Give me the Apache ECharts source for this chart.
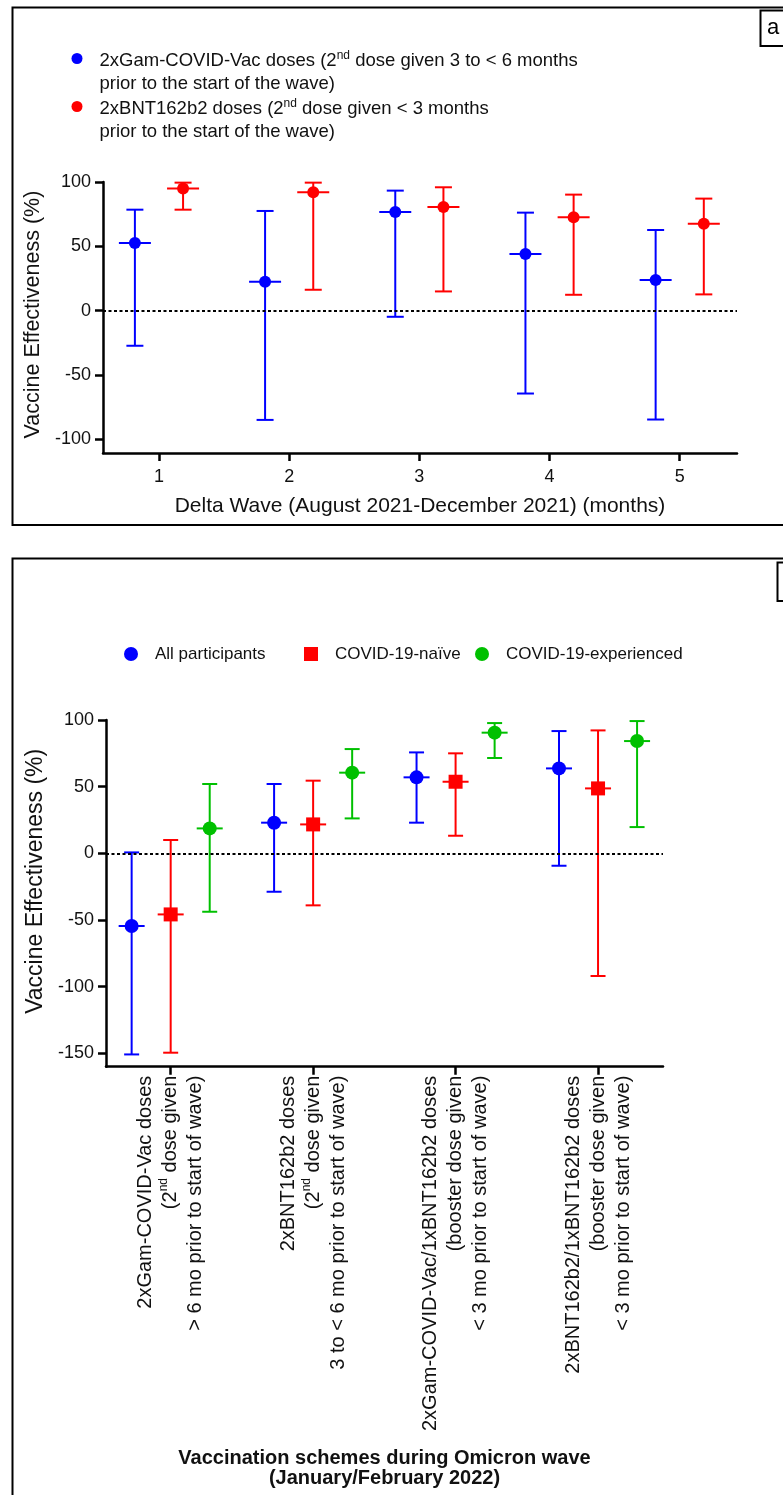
<!DOCTYPE html>
<html>
<head>
<meta charset="utf-8">
<script src="https://cdn.jsdelivr.net/npm/echarts@6/dist/echarts.min.js"></script>
<style>
html, body { margin: 0; padding: 0; background: #fff; }
#chart { width: 783px; height: 1495px; }
</style>
</head>
<body>
<div id="chart"></div>
<script>
// ---------- Panel a : Delta wave ----------
const deltaMonths = [1, 2, 3, 4, 5];
const deltaTickLabels = ['1', '2', '3', '4', '5'];
const deltaYTicks = [-100, -50, 0, 50, 100];
const gamDeltaMean = [52.6, 22.5, 76.7, 44.1, 23.9];
const gamDeltaLow  = [-27.2, -84.8, -4.7, -64.3, -84.5];
const gamDeltaHigh = [78.5, 77.5, 93.3, 76.2, 62.7];
const bntDeltaMean = [94.9, 92.0, 80.6, 72.6, 67.6];
const bntDeltaLow  = [78.5, 16.3, 15.0, 12.4, 12.7];
const bntDeltaHigh = [99.5, 99.5, 95.9, 90.2, 87.1];
const deltaSeriesNames = ['gamDelta', 'bntDelta'];
const deltaLegendTexts = [
  '2xGam-COVID-Vac doses (2nd dose given 3 to < 6 months\nprior to the start of the wave)',
  '2xBNT162b2 doses (2nd dose given < 3 months\nprior to the start of the wave)'
];

// ---------- Panel b : Omicron wave ----------
const omicronGroups = [1, 2, 3, 4];
const omicronSchemes = [
  '2xGam-COVID-Vac doses\n(2nd dose given\n> 6 mo prior to start of wave)',
  '2xBNT162b2 doses\n(2nd dose given\n3 to < 6 mo prior to start of wave)',
  '2xGam-COVID-Vac/1xBNT162b2 doses\n(booster dose given\n< 3 mo prior to start of wave)',
  '2xBNT162b2/1xBNT162b2 doses\n(booster dose given\n< 3 mo prior to start of wave)'
];
const omicronYTicks = [-150, -100, -50, 0, 50, 100];
const allMean   = [-54.5, 23.0, 57.0, 63.7];
const allLow    = [-150.8, -28.8, 23.0, -9.3];
const allHigh   = [0.7, 52.0, 75.7, 91.7];
const naiveMean = [-45.8, 21.7, 53.7, 48.7];
const naiveLow  = [-149.5, -39.0, 13.2, -92.0];
const naiveHigh = [10.0, 54.5, 75.0, 92.2];
const expMean   = [18.7, 60.5, 90.5, 84.2];
const expLow    = [-43.8, 26.2, 71.5, 19.7];
const expHigh   = [52.0, 78.2, 97.7, 99.2];
const omicronSeriesNames = ['All participants', 'COVID-19-naïve', 'COVID-19-experienced'];

// ---------- styling ----------
const BLUE = '#0000ff', RED = '#ff0000', GREEN = '#00c000';
const FONT = '"Liberation Sans", Arial, Helvetica, sans-serif';
const INK = '#111';

function rows(xs, offset, mean, low, high) {
  return xs.map((x, i) => [x + offset, mean[i], low[i], high[i]]);
}

function errorBar(capHalf, meanHalf, color) {
  return function (params, api) {
    const x = api.value(0);
    const m = api.coord([x, api.value(1)]);
    const lo = api.coord([x, api.value(2)]);
    const hi = api.coord([x, api.value(3)]);
    const st = { stroke: color, lineWidth: 2 };
    return {
      type: 'group',
      children: [
        { type: 'line', shape: { x1: lo[0], y1: lo[1], x2: hi[0], y2: hi[1] }, style: st },
        { type: 'line', shape: { x1: lo[0] - capHalf, y1: lo[1], x2: lo[0] + capHalf, y2: lo[1] }, style: st },
        { type: 'line', shape: { x1: hi[0] - capHalf, y1: hi[1], x2: hi[0] + capHalf, y2: hi[1] }, style: st },
        { type: 'line', shape: { x1: m[0] - meanHalf, y1: m[1], x2: m[0] + meanHalf, y2: m[1] }, style: st }
      ]
    };
  };
}

function barSeries(axis, data, color, capHalf, meanHalf) {
  return {
    type: 'custom', xAxisIndex: axis, yAxisIndex: axis, silent: true, z: 2,
    renderItem: errorBar(capHalf, meanHalf, color),
    encode: { x: 0, y: [1, 2, 3] },
    data: data
  };
}

function markerSeries(axis, name, data, color, symbol, size, zeroLine) {
  const s = {
    type: 'scatter', name: name, xAxisIndex: axis, yAxisIndex: axis, z: 3,
    symbol: symbol, symbolSize: size,
    itemStyle: { color: color, opacity: 1 },
    data: data.map(r => [r[0], r[1]])
  };
  if (zeroLine) {
    s.markLine = {
      silent: true, symbol: 'none', label: { show: false },
      lineStyle: { color: '#000', type: [3, 2.5], width: 2 },
      data: [{ yAxis: 0 }]
    };
  }
  return s;
}

const A_OFF = 0.185, B_OFF = 0.274;
const gamRows = rows(deltaMonths, -A_OFF, gamDeltaMean, gamDeltaLow, gamDeltaHigh);
const bntRows = rows(deltaMonths, A_OFF, bntDeltaMean, bntDeltaLow, bntDeltaHigh);
const allRows = rows(omicronGroups, -B_OFF, allMean, allLow, allHigh);
const naiveRows = rows(omicronGroups, 0, naiveMean, naiveLow, naiveHigh);
const expRows = rows(omicronGroups, B_OFF, expMean, expLow, expHigh);

function withSup(t) { return t.replace(/2nd/g, '2{sup|nd}'); }

const axisLineStyle = { color: '#000', width: 2.5 };

function deltaLegend(i, left, top) {
  return {
    data: [deltaSeriesNames[i]], left: left, top: top, padding: 0,
    orient: 'vertical', icon: 'circle', itemWidth: 11, itemHeight: 11,
    selectedMode: false,
    formatter: () => withSup(deltaLegendTexts[i]),
    textStyle: {
      fontSize: 18.5, lineHeight: 22.5, color: INK, fontFamily: FONT,
      padding: [28, 0, 0, 12],
      rich: { sup: { fontSize: 12, lineHeight: 8, verticalAlign: 'top', fontFamily: FONT, color: INK } }
    }
  };
}
function omicronLegend(i, left, icon) {
  return {
    data: [omicronSeriesNames[i]], left: left, top: 644, padding: 0,
    orient: 'horizontal', icon: icon, itemWidth: 14, itemHeight: 14,
    selectedMode: false,
    textStyle: { fontSize: 17, lineHeight: 20, color: INK, fontFamily: FONT, padding: [0, 0, 0, 12] }
  };
}

const option = {
  animation: false,
  backgroundColor: '#fff',
  textStyle: { fontFamily: FONT },
  legend: [
    deltaLegend(0, 71.5, 22),
    deltaLegend(1, 71.5, 70),
    omicronLegend(0, 124, 'circle'),
    omicronLegend(1, 304, 'rect'),
    omicronLegend(2, 475, 'circle')
  ],
  grid: [
    { left: 103, top: 182, width: 634, height: 271 },
    { left: 106, top: 720, width: 557, height: 346.7 }
  ],
  xAxis: [
    {
      type: 'value', gridIndex: 0, min: 0.57, max: 5.44,
      axisLine: { show: true, onZero: false, lineStyle: axisLineStyle },
      axisTick: { show: true, length: 8, lineStyle: axisLineStyle, customValues: deltaMonths },
      axisLabel: {
        customValues: deltaMonths, formatter: v => deltaTickLabels[deltaMonths.indexOf(v)],
        fontSize: 18, color: INK, margin: 15, fontFamily: FONT
      },
      splitLine: { show: false },
      name: 'Delta Wave (August 2021-December 2021) (months)',
      nameLocation: 'middle', nameGap: 43,
      nameTextStyle: { fontSize: 21, color: INK, fontFamily: FONT }
    },
    {
      type: 'value', gridIndex: 1, min: 0.546, max: 4.456,
      axisLine: { show: true, onZero: false, lineStyle: axisLineStyle },
      axisTick: { show: true, length: 8, lineStyle: axisLineStyle, customValues: omicronGroups },
      axisLabel: {
        customValues: omicronGroups, rotate: 90,
        formatter: v => withSup(omicronSchemes[omicronGroups.indexOf(v)]),
        fontSize: 20, lineHeight: 25, color: INK, margin: 9, fontFamily: FONT,
        rich: { sup: { fontSize: 12, lineHeight: 9, verticalAlign: 'top', fontFamily: FONT, color: INK } }
      },
      splitLine: { show: false },
      name: 'Vaccination schemes during Omicron wave\n(January/February 2022)',
      nameLocation: 'middle', nameGap: 382,
      nameTextStyle: { fontSize: 20, lineHeight: 20, fontWeight: 'bold', color: INK, fontFamily: FONT }
    }
  ],
  yAxis: [
    {
      type: 'value', gridIndex: 0, min: -110.5, max: 100,
      axisLine: { show: true, onZero: false, lineStyle: axisLineStyle },
      axisTick: { show: true, length: 8, lineStyle: axisLineStyle, customValues: deltaYTicks },
      axisLabel: { customValues: deltaYTicks, fontSize: 18, color: INK, margin: 12, fontFamily: FONT },
      splitLine: { show: false },
      name: 'Vaccine Effectiveness (%)', nameLocation: 'middle', nameGap: 56,
      nameTextStyle: { fontSize: 21.5, color: INK, fontFamily: FONT, padding: [0, 0, 0, 6] }
    },
    {
      type: 'value', gridIndex: 1, min: -160, max: 100,
      axisLine: { show: true, onZero: false, lineStyle: axisLineStyle },
      axisTick: { show: true, length: 8, lineStyle: axisLineStyle, customValues: omicronYTicks },
      axisLabel: { customValues: omicronYTicks, fontSize: 18, color: INK, margin: 12, fontFamily: FONT },
      splitLine: { show: false },
      name: 'Vaccine Effectiveness (%)', nameLocation: 'middle', nameGap: 58,
      nameTextStyle: { fontSize: 23, color: INK, fontFamily: FONT, padding: [0, 0, 0, 24] }
    }
  ],
  series: [
    barSeries(0, gamRows, BLUE, 8.5, 16),
    barSeries(0, bntRows, RED, 8.5, 16),
    markerSeries(0, deltaSeriesNames[0], gamRows, BLUE, 'circle', 12, true),
    markerSeries(0, deltaSeriesNames[1], bntRows, RED, 'circle', 12, false),
    barSeries(1, allRows, BLUE, 7.5, 13),
    barSeries(1, naiveRows, RED, 7.5, 13),
    barSeries(1, expRows, GREEN, 7.5, 13),
    markerSeries(1, omicronSeriesNames[0], allRows, BLUE, 'circle', 14, true),
    markerSeries(1, omicronSeriesNames[1], naiveRows, RED, 'rect', 14, false),
    markerSeries(1, omicronSeriesNames[2], expRows, GREEN, 'circle', 14, false)
  ],
  graphic: [
    { type: 'rect', silent: true, shape: { x: 12.5, y: 7.5, width: 800, height: 517.5 },
      style: { fill: 'none', stroke: '#000', lineWidth: 2 } },
    { type: 'rect', silent: true, shape: { x: 760.5, y: 10.5, width: 40, height: 35.5 },
      style: { fill: '#fff', stroke: '#000', lineWidth: 2 } },
    { type: 'text', silent: true, x: 767, y: 28,
      style: { text: 'a', fontSize: 22, fill: '#000', verticalAlign: 'middle', fontFamily: FONT } },
    { type: 'rect', silent: true, shape: { x: 12.5, y: 558.5, width: 800, height: 1000 },
      style: { fill: 'none', stroke: '#000', lineWidth: 2 } },
    { type: 'rect', silent: true, shape: { x: 777.5, y: 562.5, width: 40, height: 38.5 },
      style: { fill: '#fff', stroke: '#000', lineWidth: 2 } }
  ]
};

const chart = echarts.init(document.getElementById('chart'), null, { renderer: 'canvas' });
chart.setOption(option);
</script>
</body>
</html>
